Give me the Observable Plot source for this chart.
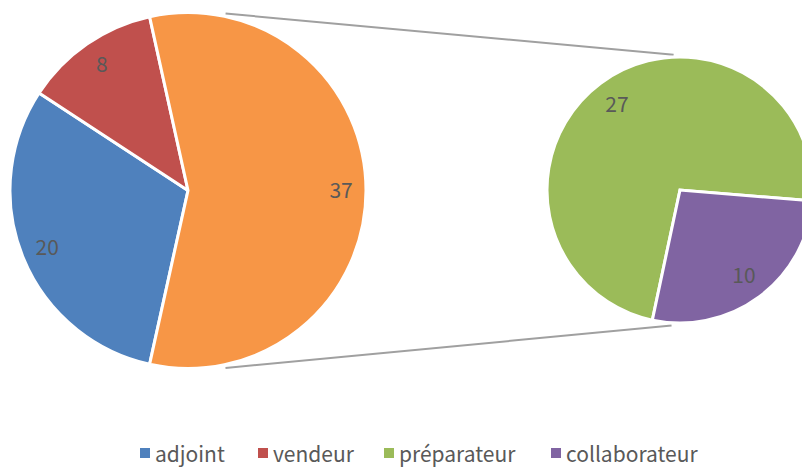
<!DOCTYPE html>
<html><head><meta charset="utf-8">
<script src="https://cdn.jsdelivr.net/npm/d3@7"></script>
<script src="https://cdn.jsdelivr.net/npm/@observablehq/plot@0.6"></script>
<style>
body{margin:0;background:#fff;overflow:hidden;width:802px;height:468px;font-family:"Noto Sans CJK JP","Noto Sans",sans-serif;}
#chart svg{overflow:hidden;display:block;}
#legend{position:relative;height:30px;font-size:21px;color:#595959;}
#legend .item{position:absolute;top:0;white-space:nowrap;line-height:30px;height:30px;display:flex;align-items:center;}
#legend .sw{width:10px;height:10px;margin-right:5px;display:inline-block;}
</style></head><body>
<div id="chart"></div>
<div id="legend"></div>
<script>
// ---- data ----
const mainCategories = ["adjoint", "vendeur", "autre"];
const mainValues = [20, 8, 37];
const subCategories = ["préparateur", "collaborateur"];
const subValues = [27, 10];
const legendLabels = ["adjoint", "vendeur", "préparateur", "collaborateur"];
const colorDomain = ["adjoint", "vendeur", "préparateur", "collaborateur", "autre"];
const colorRange = ["#4F81BD", "#C0504D", "#9BBB59", "#8064A2", "#F79646"];

// ---- layout ----
const W = 802, H = 438;
const leftPie = {cx: 188, cy: 190.5, r: 178, k: 0.857};
const rightPie = {cx: 680, cy: 190, r: 133, k: 0.80};
const rightStartDeg = 192;
const legendLeft = [140, 258, 384, 551];

const rad = Math.PI / 180;
const otherShare = mainValues[2] / d3.sum(mainValues);
const leftStart = Math.PI / 2 + Math.PI * otherShare;
const rightStart = rightStartDeg * rad;

function layout(values, cats, start, pie) {
  return d3.pie().sort(null).startAngle(start).endAngle(start + 2 * Math.PI)(values)
    .map((a, i) => {
      const mid = (a.startAngle + a.endAngle) / 2;
      return {...a, category: cats[i], pie,
        lx: pie.cx + pie.k * pie.r * Math.sin(mid),
        ly: pie.cy - pie.k * pie.r * Math.cos(mid)};
    });
}
const slices = [
  ...layout(mainValues, mainCategories, leftStart, leftPie),
  ...layout(subValues, subCategories, rightStart, rightPie)
];

function pt(p, deg, extra) {
  const a = deg * rad, rr = p.r + extra;
  return [p.cx + rr * Math.sin(a), p.cy - rr * Math.cos(a)];
}
const connectors = [
  {a: pt(leftPie, 11.8, 3.3), b: pt(rightPie, -2.9, 3)},
  {a: pt(leftPie, 168.2, 2.8), b: pt(rightPie, 183.8, 2.3)}
];

const arcGen = d3.arc().innerRadius(0);
const fallbackColor = d3.scaleOrdinal(colorDomain, colorRange);
function pieMark(index, scales) {
  const sx = scales.x || (v => v), sy = scales.y || (v => v);
  const col = scales.color || fallbackColor;
  const g = d3.create("svg:g");
  for (const s of slices) {
    g.append("path")
      .attr("transform", `translate(${sx(s.pie.cx)},${sy(s.pie.cy)})`)
      .attr("d", arcGen.outerRadius(s.pie.r)(s))
      .attr("fill", col(s.category))
      .attr("stroke", "white")
      .attr("stroke-width", 3)
      .attr("stroke-linejoin", "miter");
  }
  return g.node();
}

const chart = Plot.plot({
  width: W, height: H,
  margin: 0,
  x: {domain: [0, W], range: [0, W], axis: null},
  y: {domain: [0, H], range: [0, H], axis: null},
  color: {domain: colorDomain, range: colorRange},
  style: {fontFamily: '"Noto Sans CJK JP","Noto Sans",sans-serif', background: "white"},
  marks: [
    Plot.link(connectors, {x1: d => d.a[0], y1: d => d.a[1], x2: d => d.b[0], y2: d => d.b[1],
      stroke: "#A0A0A0", strokeWidth: 2}),
    pieMark,
    Plot.text(slices, {x: "lx", y: "ly", text: d => String(d.value),
      fill: "#595959", fontSize: 21, textAnchor: "middle", lineAnchor: "middle"})
  ]
});
document.getElementById("chart").appendChild(chart);

// ---- legend (from the plot's color scale) ----
const cs = chart.scale("color");
const colorOf = cs ? (c => cs.range[cs.domain.indexOf(c)]) : (c => fallbackColor(c));
const leg = d3.select("#legend");
legendLabels.forEach((lab, i) => {
  const it = leg.append("div").attr("class", "item").style("left", legendLeft[i] + "px");
  it.append("span").attr("class", "sw").style("background", colorOf(lab));
  it.append("span").text(lab);
});
</script>
</body></html>
